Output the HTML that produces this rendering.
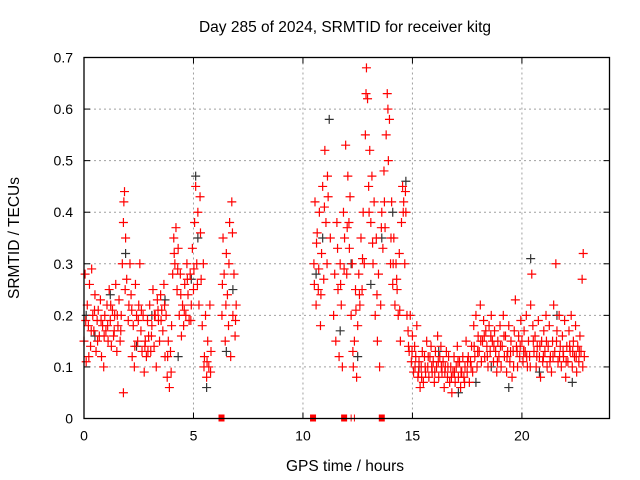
<!DOCTYPE html>
<html><head><meta charset="utf-8"><style>
body{margin:0;background:#fff;}
svg{display:block;font-family:"Liberation Sans",sans-serif;}
</style></head><body>
<svg id="chart" width="640" height="480">
<text x="345" y="32" font-size="15.5" text-anchor="middle">Day 285 of 2024, SRMTID for receiver kitg</text>
<text x="345" y="471" font-size="15.5" text-anchor="middle">GPS time / hours</text>
<text transform="translate(19,238) rotate(-90)" font-size="15.5" text-anchor="middle">SRMTID / TECUs</text>
<g id="grid"></g><g id="ticks"></g><g id="black"></g><g id="red"></g>
<rect x="84" y="57.5" width="525.5" height="361" fill="none" stroke="#000" stroke-width="1.3"/>
</svg>
<script>
const xTicks=[0,5,10,15,20];
const yTicks=[0,0.1,0.2,0.3,0.4,0.5,0.6,0.7];
const yTickLabels=["0","0.1","0.2","0.3","0.4","0.5","0.6","0.7"];
const redSeries=[[0,.15],[.05,.28],[.1,.11],[.15,.22],[.2,.18],[.25,.26],[.3,.14],[.35,.29],[.4,.2],[.45,.17],[.5,.24],[.55,.13],[.6,.19],[.65,.21],[.7,.16],[.75,.23],[.8,.12],[.85,.18],[.9,.1],[.95,.2],[1,.17],[1.05,.22],[1.1,.15],[1.15,.25],[1.2,.19],[1.25,.14],[1.3,.21],[1.35,.16],[1.4,.2],[1.45,.26],[1.5,.13],[1.55,.18],[1.6,.23],[1.65,.15],[1.7,.2],[1.75,.3],[1.8,.38],[1.85,.44],[1.9,.35],[1.95,.27],[1.8,.05],[2.05,.22],[2.1,.3],[2.15,.24],[2.2,.12],[2.25,.18],[2.3,.1],[2.35,.26],[2.4,.2],[2.45,.15],[2.5,.22],[2.55,.3],[2.6,.17],[2.65,.13],[2.7,.2],[2.75,.09],[2.8,.15],[2.85,.12],[2.9,.19],[2.95,.16],[3,.22],[3.05,.13],[3.1,.18],[3.15,.25],[3.2,.14],[3.25,.2],[3.3,.1],[3.35,.23],[3.4,.19],[3.45,.15],[3.5,.24],[3.55,.21],[3.6,.17],[3.65,.26],[3.7,.12],[3.75,.2],[3.8,.08],[3.85,.15],[3.9,.06],[3.95,.13],[4,.18],[4.05,.28],[4.1,.35],[4.15,.3],[4.2,.37],[4.25,.25],[4.3,.33],[4.35,.2],[4.4,.28],[4.45,.16],[4.5,.22],[4.55,.18],[4.6,.26],[4.65,.2],[4.7,.3],[4.75,.24],[4.8,.19],[4.85,.28],[4.9,.22],[4.95,.33],[5,.25],[5.05,.38],[5.1,.45],[5.15,.3],[5.2,.4],[5.25,.22],[5.3,.43],[5.35,.27],[5.4,.18],[5.45,.3],[5.5,.12],[5.55,.2],[5.6,.08],[5.65,.15],[5.7,.1],[5.75,.22],[5.8,.13],[6.3,.2],[6.35,.35],[6.4,.28],[6.45,.15],[6.5,.32],[6.55,.24],[6.6,.18],[6.65,.38],[6.7,.12],[6.75,.42],[6.8,.2],[6.85,.28],[6.9,.16],[6.95,.22],
[10.5,.3],[10.55,.42],[10.6,.22],[10.65,.36],[10.7,.25],[10.75,.4],[10.8,.18],[10.85,.32],[10.9,.45],[10.95,.27],[11,.52],[11.05,.38],[11.1,.3],[11.15,.43],[11.25,.35],[11.4,.2],[11.45,.28],[11.5,.15],[11.55,.38],[11.6,.25],[11.65,.12],[11.7,.3],[11.75,.22],[11.8,.1],[11.85,.4],[11.9,.35],[11.95,.53],[12,.28],[12.05,.47],[12.1,.38],[12.15,.43],[12.2,.2],[12.25,.3],[12.3,.1],[12.35,.15],[12.4,.25],[12.45,.08],[12.5,.18],[12.55,.28],[12.6,.22],[12.65,.35],[12.7,.25],[12.75,.4],[12.8,.3],[12.85,.55],[12.9,.68],[12.95,.62],[13,.45],[13.05,.52],[13.1,.38],[13.15,.47],[13.2,.3],[13.25,.42],[13.3,.2],[13.35,.35],[13.4,.15],[13.45,.28],[13.5,.1],[13.55,.22],[13.6,.4],[13.65,.33],[13.7,.48],[13.75,.37],[13.8,.55],[13.85,.63],[13.9,.5],[13.95,.58],[14,.3],[14.05,.42],[14.1,.26],[14.15,.35],[14.2,.22],[14.25,.3],[14.3,.25],[14.35,.2],[14.4,.32],[14.45,.15],[14.5,.38],[14.55,.45],[14.6,.42],[14.65,.3],[14.7,.4],[14.75,.2],
[14.8,.17],[14.85,.13],[14.9,.2],[14.95,.11],[15,.16],[15.05,.09],[15.1,.14],[15.15,.12],[15.2,.18],[15.25,.08],[15.3,.11],[15.35,.06],[15.4,.1],[15.45,.13],[15.5,.07],[15.55,.12],[15.6,.09],[15.65,.15],[15.7,.1],[15.75,.08],[15.8,.12],[15.85,.14],[15.9,.09],[15.95,.11],[16,.07],[16.05,.13],[16.1,.1],[16.15,.16],[16.2,.08],[16.25,.12],[16.3,.14],[16.35,.09],[16.4,.11],[16.45,.06],[16.5,.1],[16.55,.13],[16.6,.08],[16.65,.12],[16.7,.07],[16.75,.1],[16.8,.05],[16.85,.09],[16.9,.12],[16.95,.07],[17,.1],[17.05,.14],[17.1,.08],[17.15,.11],[17.2,.06],[17.25,.09],[17.3,.12],[17.35,.08],[17.4,.1],[17.45,.15],[17.5,.09],[17.55,.12],[17.6,.07],[17.65,.11],[17.7,.14],[17.75,.09],[17.8,.18],[17.85,.12],[17.9,.2],[17.95,.1],[18,.16],[18.05,.13],[18.1,.22],[18.15,.11],[18.2,.15],[18.25,.19],[18.3,.12],[18.35,.17],[18.4,.14],[18.45,.1],[18.5,.18],[18.55,.13],[18.6,.2],[18.65,.15],[18.7,.11],[18.75,.17],[18.8,.13],[18.85,.09],[18.9,.15],[18.95,.12],[19,.18],[19.05,.1],[19.1,.14],[19.15,.2],[19.2,.12],[19.25,.16],[19.3,.09],[19.35,.13],[19.4,.18],[19.45,.11],[19.5,.15],[19.55,.08],[19.6,.13],[19.65,.17],[19.7,.23],[19.75,.14],[19.8,.1],[19.85,.16],[19.9,.12],[19.95,.19],[20,.15],[20.05,.11],[20.1,.17],[20.15,.13],[20.2,.2],[20.25,.1],[20.3,.15],[20.35,.12],[20.4,.22],[20.45,.28],[20.5,.18],[20.55,.13],[20.6,.16],[20.65,.1],[20.7,.14],[20.75,.19],[20.8,.12],[20.85,.08],[20.9,.15],[20.95,.11],[21,.17],[21.05,.13],[21.1,.2],[21.15,.1],[21.2,.14],[21.25,.18],[21.3,.12],[21.35,.09],[21.4,.15],[21.45,.22],[21.5,.13],[21.55,.3],[21.6,.17],[21.65,.11],[21.7,.2],[21.75,.14],[21.8,.1],[21.85,.16],[21.9,.12],[21.95,.19],[22,.08],[22.05,.14],[22.1,.11],[22.15,.17],[22.2,.13],[22.25,.2],[22.3,.1],[22.35,.15],[22.4,.12],[22.45,.18],[22.5,.09],[22.55,.14],[22.6,.11],[22.65,.16],[22.7,.13],[22.75,.27],[22.8,.32],[22.85,.12]];
const redSeriesExtra=[[0.08,.19],[0.22,.12],[0.33,.17],[0.48,.21],[0.62,.15],[0.78,.19],[0.92,.16],[1.08,.18],[1.22,.22],[1.38,.17],[1.52,.2],[1.68,.17],[1.82,.42],[1.88,.25],[2.02,.19],[2.18,.21],[2.32,.14],[2.48,.19],[2.62,.21],[2.78,.14],[2.92,.13],[3.08,.16],[3.22,.2],[3.38,.21],[3.52,.19],[3.68,.22],[3.82,.12],[3.98,.09],[4.12,.32],[4.28,.29],[4.42,.24],[4.58,.21],[4.72,.27],[4.88,.19],[5.02,.29],[5.18,.26],[5.32,.36],[5.48,.1],[5.62,.11],[5.78,.09],[6.32,.26],[6.48,.22],[6.62,.3],[6.78,.36],[6.92,.19],
[10.52,.26],[10.62,.34],[10.72,.29],[10.82,.24],[10.98,.41],[11.12,.47],[11.58,.33],[11.72,.26],[11.88,.29],[12.02,.37],[12.12,.33],[12.28,.13],[12.42,.21],[12.58,.24],[12.72,.31],[12.88,.63],[13.02,.4],[13.18,.34],[13.38,.24],[13.58,.37],[13.72,.42],[13.88,.6],[14.02,.35],[14.12,.3],[14.28,.27],[14.42,.21],[14.58,.4],[14.68,.44],
[14.82,.14],[14.98,.13],[15.12,.1],[15.28,.09],[15.42,.08],[15.58,.1],[15.72,.12],[15.88,.1],[16.02,.09],[16.18,.11],[16.32,.1],[16.48,.09],[16.62,.1],[16.78,.08],[16.92,.09],[17.08,.11],[17.22,.09],[17.38,.07],[17.52,.11],[17.68,.1],[17.82,.14],[17.98,.13],[18.12,.15],[18.28,.16],[18.42,.12],[18.58,.16],[18.72,.14],[18.88,.11],[19.02,.14],[19.18,.16],[19.32,.12],[19.48,.13],[19.62,.1],[19.78,.13],[19.92,.14],[20.08,.13],[20.22,.12],[20.38,.1],[20.52,.15],[20.68,.12],[20.82,.14],[20.98,.12],[21.12,.15],[21.28,.11],[21.42,.12],[21.58,.15],[21.72,.12],[21.88,.13],[22.02,.11],[22.18,.14],[22.32,.13],[22.48,.12],[22.62,.13],[22.78,.1]];
const blackSeries=[[0.1,.2],[0.5,.16],[1.2,.24],[1.9,.32],[2.4,.14],[3.1,.2],[3.7,.23],[4.3,.12],[4.9,.27],[5.1,.47],[5.2,.35],[5.6,.06],[6.5,.13],[6.8,.25],[10.6,.28],[10.9,.35],[11.2,.58],[11.7,.17],[12.2,.3],[12.5,.12],[13.1,.26],[13.6,.35],[14.1,.4],[14.7,.46],[15.3,.1],[16.2,.13],[17.1,.05],[17.9,.07],[18.6,.1],[19.4,.06],[20.4,.31],[20.8,.09],[21.6,.2],[22.3,.07]];
const redZeroMarks=[6.28,10.46,11.88,13.6];
const thinZeroMarks=[12.2,12.35];

const X0=84,X1=609.5,Y0=418.5,Y1=57.5,XMAX=24,YMAX=0.7;
const xs=v=>X0+(X1-X0)*v/XMAX;
const ys=v=>Y0-(Y0-Y1)*v/YMAX;
const NS="http://www.w3.org/2000/svg";
function mk(tag,attrs,parent){const e=document.createElementNS(NS,tag);for(const k in attrs)e.setAttribute(k,attrs[k]);parent.appendChild(e);return e;}
const grid=document.getElementById('grid'),ticks=document.getElementById('ticks');
xTicks.forEach(t=>{
  if(t>0){const g=mk('line',{x1:xs(t),x2:xs(t),y1:Y1,y2:Y0,stroke:'#a0a0a0','stroke-dasharray':'2,3'},grid);
  
  }
  mk('line',{x1:xs(t),x2:xs(t),y1:Y0,y2:Y0-6,stroke:'#000'},ticks);
  mk('line',{x1:xs(t),x2:xs(t),y1:Y1,y2:Y1+6,stroke:'#000'},ticks);
  const l=mk('text',{x:xs(t),y:Y0+22,'font-size':14,'text-anchor':'middle'},ticks);
  l.textContent=String(t);
  
  
});
yTicks.forEach((t,i)=>{
  if(t>0&&t<YMAX){const g=mk('line',{x1:X0,x2:X1,y1:ys(t),y2:ys(t),stroke:'#a0a0a0','stroke-dasharray':'2,3'},grid);
  
  }
  mk('line',{x1:X0,x2:X0+6,y1:ys(t),y2:ys(t),stroke:'#000'},ticks);
  mk('line',{x1:X1,x2:X1-6,y1:ys(t),y2:ys(t),stroke:'#000'},ticks);
  const l=mk('text',{x:X0-11,y:ys(t)+5,'font-size':14,'text-anchor':'end'},ticks);
  l.textContent=yTickLabels[i];
  
  
});
function plus(p,x,y,c){
  const d=`M${x-4.5},${y}H${x+4.5}M${x},${y-4.5}V${y+4.5}`;
  return mk('path',{d:d,stroke:c,'stroke-width':1.2,fill:'none'},p);
}
const bg=document.getElementById('black'),rg=document.getElementById('red');
blackSeries.forEach(p=>{const e=plus(bg,xs(p[0]),ys(p[1]),'#333');
  
  });
redSeries.concat(redSeriesExtra).forEach(p=>{const e=plus(rg,xs(p[0]),ys(p[1]),'#ff0000');
  
  });
redZeroMarks.forEach(t=>{const e=mk('rect',{x:xs(t)-3,y:Y0-4,width:6,height:7,fill:'#ff0000'},rg);
  
  });
thinZeroMarks.forEach(t=>{const e=mk('line',{x1:xs(t),x2:xs(t),y1:Y0-4,y2:Y0+3,stroke:'#ff0000'},rg);
  
  });
</script>
</body></html>
